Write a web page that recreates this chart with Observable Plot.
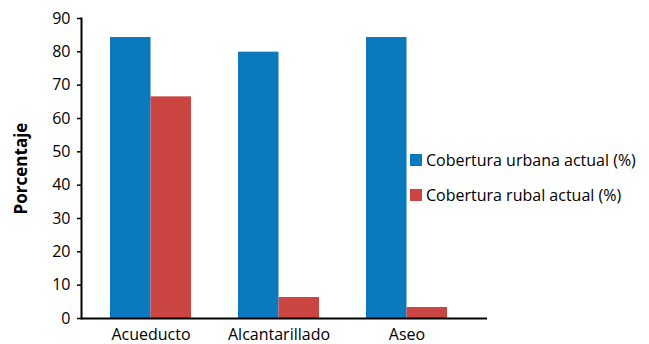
<!DOCTYPE html>
<html>
<head>
<meta charset="utf-8">
<script src="https://cdn.jsdelivr.net/npm/d3@7"></script>
<script src="https://cdn.jsdelivr.net/npm/@observablehq/plot@0.6"></script>
<style>
  html, body { margin: 0; padding: 0; background: #fff; }
  #wrap { position: relative; width: 649px; height: 344px; font-family: "Open Sans", sans-serif; }
  #legend { position: absolute; left: 410px; top: 150px; font-size: 16px; color: #000; }
  .item { display: flex; align-items: center; height: 20px; margin-bottom: 15px; }
  .sw { width: 12px; height: 12px; margin-right: 4px; }
</style>
</head>
<body>
<div id="wrap"><div id="legend"></div></div>
<script>
const categories = ["Acueducto", "Alcantarillado", "Aseo"];
const urbana = [84.3, 79.9, 84.3];
const rural = [66.5, 6.3, 3.3];
const seriesNames = ["Cobertura urbana actual (%)", "Cobertura rubal actual (%)"];
const colors = ["#0b79be", "#cb4542"];
const yTicks = [0, 10, 20, 30, 40, 50, 60, 70, 80, 90];

const rows = categories.map((c, i) => ({cat: c, urbana: urbana[i], rural: rural[i]}));
const half = 40.5;

const chart = Plot.plot({
  width: 649,
  height: 344,
  marginTop: 18,
  marginBottom: 26,
  marginLeft: 81,
  marginRight: 162,
  style: {fontFamily: "Open Sans", fontSize: "16px", color: "#000", background: "#fff", overflow: "visible"},
  x: {domain: categories, range: [86, 471.25], paddingInner: 0.365, paddingOuter: 0.1825},
  y: {domain: [0, 90]},
  marks: [
    Plot.barY(rows, {x: "cat", y: "urbana", fill: colors[0], insetRight: half}),
    Plot.barY(rows, {x: "cat", y: "rural", fill: colors[1], insetLeft: half}),
    Plot.axisY({ticks: yTicks, tickSize: 4, tickPadding: 7, strokeWidth: 1.5, fontSize: 16,
      label: "Porcentaje", labelAnchor: "center", labelOffset: 67, labelArrow: "none"}),
    Plot.axisX({tickSize: 0, tickPadding: 10, fontSize: 16, label: null}),
    Plot.frame({anchor: "left", stroke: "#000", strokeWidth: 2}),
    Plot.ruleY([0], {stroke: "#000", strokeWidth: 2})
  ]
});
document.getElementById("wrap").prepend(chart);

chart.querySelectorAll("g[aria-label='y-axis label'] text").forEach(t => {
  t.setAttribute("font-weight", "bold");
  t.setAttribute("font-size", "17");
});

const legend = document.getElementById("legend");
seriesNames.forEach((n, i) => {
  const d = document.createElement("div");
  d.className = "item";
  d.innerHTML = `<span class="sw" style="background:${colors[i]}"></span><span>${n}</span>`;
  legend.appendChild(d);
});
</script>
</body>
</html>
